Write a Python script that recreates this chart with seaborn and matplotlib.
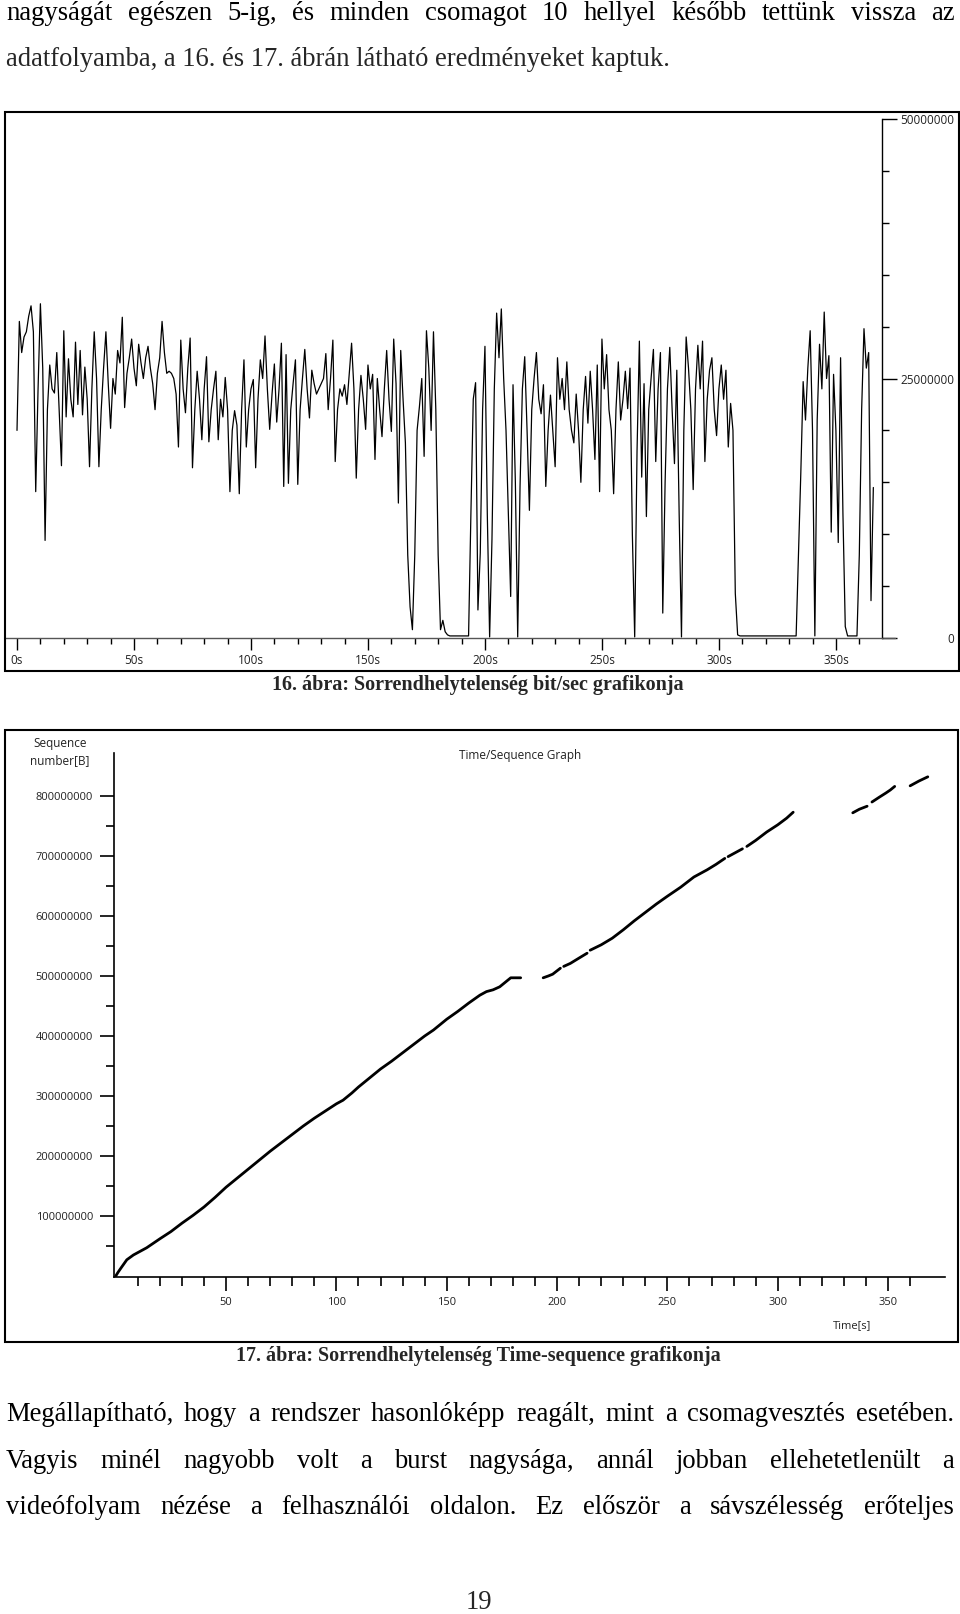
import numpy as np
import pandas as pd
import matplotlib
matplotlib.use("Agg")
import matplotlib.pyplot as plt
import seaborn as sns
from matplotlib.patches import Rectangle
from matplotlib.lines import Line2D
from matplotlib.ticker import MultipleLocator, FixedLocator, FuncFormatter

# ---------------- data ----------------
# Figure 16: bit/sec, one value per second (millions of bit/s)
bitrate_mbps = [
    20.0, 30.5, 27.5, 29.0, 29.5, 31.0, 32.0, 29.5, 14.1, 24.0,
    32.2, 26.0, 9.4, 22.0, 26.3, 24.0, 23.6, 27.5, 22.0, 16.6,
    29.6, 21.3, 26.9, 23.0, 21.3, 28.5, 22.5, 27.7, 21.5, 26.1,
    23.0, 16.5, 24.0, 29.5, 25.0, 16.5, 22.0, 26.0, 29.5, 24.5,
    20.2, 25.0, 23.5, 27.7, 26.5, 30.9, 22.2, 25.5, 27.0, 28.8,
    26.0, 24.3, 28.3, 26.5, 25.0, 27.0, 28.1, 26.0, 24.5, 22.0,
    25.5, 27.0, 30.5, 27.5, 25.5, 25.7, 25.5, 25.0, 23.5, 18.4,
    28.7, 24.0, 21.7, 26.0, 28.9, 16.4, 22.0, 25.7, 23.0, 19.1,
    24.0, 27.1, 18.9, 22.0, 24.0, 25.7, 19.1, 23.0, 21.3, 25.1,
    22.0, 14.1, 20.0, 21.9, 20.5, 13.9, 22.0, 26.8, 18.4, 22.0,
    24.0, 24.9, 16.4, 23.0, 26.8, 25.0, 29.1, 24.0, 20.1, 23.5,
    26.4, 20.8, 24.0, 28.4, 14.6, 27.3, 14.9, 22.0, 24.5, 26.8,
    14.8, 22.0, 25.0, 27.8, 24.0, 21.2, 25.8, 24.5, 23.5, 24.0,
    24.5, 25.0, 27.4, 22.0, 25.0, 28.7, 17.0, 22.0, 24.0, 23.3,
    24.4, 22.5, 25.5, 28.4, 24.0, 15.4, 22.0, 25.3, 23.0, 20.1,
    26.3, 24.0, 25.4, 17.2, 25.0, 22.0, 19.4, 24.0, 27.7, 23.0,
    19.9, 28.8, 24.5, 13.0, 27.7, 23.0, 18.8, 8.0, 3.0, 0.8,
    8.0, 20.0, 22.3, 25.0, 17.5, 29.6, 26.0, 20.0, 29.5, 22.0,
    8.0, 0.8, 1.7, 0.6, 0.3, 0.2, 0.2, 0.2, 0.2, 0.2,
    0.2, 0.2, 0.2, 0.2, 12.0, 23.0, 24.6, 2.7, 8.2, 22.0,
    28.1, 12.0, 0.1, 9.5, 24.0, 31.3, 27.0, 31.7, 25.0, 20.0,
    12.0, 4.0, 24.4, 15.0, 0.1, 14.6, 24.0, 27.1, 20.0, 12.3,
    22.0, 25.0, 27.5, 23.0, 21.6, 24.4, 14.6, 20.0, 23.4, 20.0,
    16.5, 27.0, 23.0, 25.0, 22.0, 26.6, 22.0, 20.0, 18.8, 23.5,
    20.0, 15.0, 22.0, 25.2, 20.7, 25.7, 22.0, 17.2, 26.3, 14.1,
    28.8, 24.0, 27.3, 22.0, 20.0, 13.9, 22.0, 26.6, 21.0, 23.0,
    25.7, 22.1, 26.0, 10.0, 0.1, 18.0, 28.6, 15.5, 24.5, 11.7,
    22.0, 25.0, 27.8, 17.0, 24.0, 27.5, 2.4, 15.0, 24.0, 28.0,
    22.0, 16.8, 25.8, 12.0, 0.1, 20.0, 29.0, 26.0, 22.0, 14.3,
    24.0, 28.2, 24.0, 28.6, 17.0, 23.0, 25.8, 27.0, 22.0, 19.5,
    24.0, 26.3, 23.0, 25.8, 18.4, 22.6, 20.0, 4.3, 0.3, 0.2,
    0.2, 0.2, 0.2, 0.2, 0.2, 0.2, 0.2, 0.2, 0.2, 0.2,
    0.2, 0.2, 0.2, 0.2, 0.2, 0.2, 0.2, 0.2, 0.2, 0.2,
    0.2, 0.2, 0.2, 0.2, 8.0, 15.9, 24.7, 21.0, 26.0, 29.6,
    20.0, 0.2, 21.0, 28.3, 24.0, 31.4, 25.0, 27.2, 10.2, 25.4,
    20.0, 9.2, 27.0, 12.0, 1.1, 0.2, 0.2, 0.2, 0.2, 0.2,
    8.0, 22.0, 29.8, 26.0, 27.5, 3.6, 14.5,
]
bitrate_seconds = list(range(len(bitrate_mbps)))
bitrate_ticks = [0, 25000000, 50000000]
bitrate_xticks = [0, 50, 100, 150, 200, 250, 300, 350]
bitrate_xtick_labels = ["0s", "50s", "100s", "150s", "200s", "250s", "300s", "350s"]
bitrate_xminor = [10, 20, 30, 40, 60, 70, 80, 90, 110, 120, 130, 140, 160, 170, 180, 190,
                  210, 220, 230, 240, 260, 270, 280, 290, 310, 320, 330, 340, 360]

# Figure 17: time / sequence graph, segments separated by gaps (sequence in millions of bytes)
seq_segment = ([1] * 44 + [2] * 4 + [3] * 4 + [4] * 13 + [5] * 2 + [6] * 6 +
               [7] * 3 + [8] * 5 + [9] * 3)
seq_time = [0, 1, 2.5, 5, 8, 11, 14, 20, 25, 30, 35, 40, 45, 50, 55, 60, 65, 70, 75, 80,
            85, 90, 95, 100, 103, 107, 110, 115, 120, 125, 130, 135, 140, 144, 150, 155,
            160, 165, 168, 171, 174, 177, 179, 183.5,
            193.7, 196, 198, 201.5,
            203, 206, 210, 213.6,
            215, 220, 225, 230, 235, 240, 245, 250, 256, 262, 268, 272, 276,
            277.5, 284,
            286, 290, 295, 300, 304, 307,
            334, 337, 340.5,
            342.7, 346, 349, 351, 353,
            360, 364, 368]
seq_value_mb = [0, 6, 14, 27, 35, 41, 47, 62, 74, 88, 101, 115, 131, 148, 163, 178, 193, 208,
                222, 236, 250, 263, 275, 287, 293, 305, 315, 330, 345, 358, 372, 386, 400,
                410, 428, 441, 455, 468, 474, 477, 482, 491, 497, 497,
                497, 500, 503, 513,
                516, 521, 530, 538,
                543, 552, 563, 577, 592, 606, 620, 633, 648, 665, 677, 686, 696,
                699, 712,
                716, 726, 740, 752, 763, 773,
                772, 778, 783,
                790, 798, 805, 810, 816,
                817, 825, 832]
seq_yticks = [100000000, 200000000, 300000000, 400000000, 500000000, 600000000, 700000000, 800000000]
seq_yminor = [50000000, 150000000, 250000000, 350000000, 450000000, 550000000, 650000000, 750000000]
seq_xticks = [50, 100, 150, 200, 250, 300, 350]
seq_xminor = [10, 20, 30, 40, 60, 70, 80, 90, 110, 120, 130, 140, 160, 170, 180, 190,
              210, 220, 230, 240, 260, 270, 280, 290, 310, 320, 330, 340, 360]

# page text
text_top = ["nagyságát egészen 5-ig, és minden csomagot 10 hellyel később tettünk vissza az",
            "adatfolyamba, a 16. és 17. ábrán látható eredményeket kaptuk."]
caption16 = "16. ábra: Sorrendhelytelenség bit/sec grafikonja"
caption17 = "17. ábra: Sorrendhelytelenség Time-sequence grafikonja"
text_bottom = ["Megállapítható, hogy a rendszer hasonlóképp reagált, mint a csomagvesztés esetében.",
               "Vagyis minél nagyobb volt a burst nagysága, annál jobban ellehetetlenült a",
               "videófolyam nézése a felhasználói oldalon. Ez először a sávszélesség erőteljes"]
page_number = "19"

# ---------------- figure ----------------
sns.set_style("white")
plt.rcParams["font.family"] = ["Open Sans", "DejaVu Sans"]
W, H = 960, 1614
fig = plt.figure(figsize=(W / 100, H / 100), dpi=100)
renderer = fig.canvas.get_renderer()
SERIF = ["Liberation Serif", "DejaVu Serif"]


def fpos(x, y):
    return x / W, 1 - y / H


def text_width(s, fs, weight="normal"):
    t = fig.text(0, 0, s, fontsize=fs, family=SERIF, weight=weight)
    w = t.get_window_extent(renderer).width
    t.remove()
    return w


def justified(line, base_y, fs, x0=6, x1=955):
    words = line.split(" ")
    widths = [text_width(w, fs) for w in words]
    gap = (x1 - x0 - sum(widths)) / (len(words) - 1)
    x = x0
    for w, wd in zip(words, widths):
        fig.text(*fpos(x, base_y), w, fontsize=fs, family=SERIF, va="baseline", ha="left", color="black")
        x += wd + gap


fs_body = 14 * 668 / text_width(text_top[1], 14)
fs_cap = 14 * 412 / text_width(caption16, 14, "bold")

justified(text_top[0], 20, fs_body)
fig.text(*fpos(6, 66), text_top[1], fontsize=fs_body, family=SERIF, va="baseline", ha="left")
for line, y in zip(text_bottom, [1421, 1468, 1514]):
    justified(line, y, fs_body, 6, 954)
fig.text(*fpos(479, 1609), page_number, fontsize=fs_body, family=SERIF, va="baseline", ha="center")
fig.text(*fpos(478, 690), caption16, fontsize=fs_cap, family=SERIF, weight="bold", va="baseline", ha="center")
fig.text(*fpos(478, 1361), caption17, fontsize=fs_cap, family=SERIF, weight="bold", va="baseline", ha="center")

# frames
for (x0, y0, x1, y1) in [(5, 112, 959, 671), (5, 730, 958, 1342)]:
    fig.add_artist(Rectangle(fpos(x0, y1), (x1 - x0) / W, (y1 - y0) / H, transform=fig.transFigure,
                             fill=False, lw=1.5, ec="black"))

PX = 0.72  # points per pixel

# ---------- top chart ----------
ax1 = fig.add_axes([5 / W, 1 - 638 / H, (882 - 5) / W, (638 - 119) / H])
df1 = pd.DataFrame({"t": bitrate_seconds, "bps": np.array(bitrate_mbps) * 1e6})
sns.lineplot(data=df1, x="t", y="bps", color="black", lw=0.9, ax=ax1)
ax1.set_xlim(-5.13, 369.7)
ax1.set_ylim(0, 50e6)
ax1.set_xlabel("")
ax1.set_ylabel("")
ax1.set_facecolor("white")
for s in ["top", "left"]:
    ax1.spines[s].set_visible(False)
ax1.spines["right"].set_color("black")
ax1.spines["right"].set_linewidth(1)
ax1.spines["bottom"].set_color("#555555")
ax1.spines["bottom"].set_linewidth(1)
ax1.add_line(Line2D([1, 1 + 13 / 877], [0, 0], transform=ax1.transAxes, color="#555555", lw=1, clip_on=False))
ax1.yaxis.tick_right()
ax1.set_yticks(bitrate_ticks)
ax1.yaxis.set_minor_locator(MultipleLocator(5e6))
ax1.yaxis.set_major_formatter(FuncFormatter(lambda v, p: f"{v:.0f}"))
ax1.set_xticks(bitrate_xticks)
ax1.set_xticklabels(bitrate_xtick_labels)
ax1.xaxis.set_minor_locator(FixedLocator(bitrate_xminor))
ax1.tick_params(axis="y", which="both", left=False, labelleft=False, right=True, labelright=True,
                direction="out", color="black", width=1)
ax1.tick_params(axis="y", which="major", length=15 * PX, pad=(72 - 15) * PX, labelsize=8.5, labelcolor="#222222")
ax1.tick_params(axis="y", which="minor", length=7 * PX)
plt.setp(ax1.get_yticklabels(), ha="right")
ax1.tick_params(axis="x", which="both", bottom=True, direction="out", color="black", width=1)
ax1.tick_params(axis="x", which="major", length=12 * PX, pad=3, labelsize=8.5, labelcolor="#222222")
ax1.tick_params(axis="x", which="minor", length=6 * PX)

# ---------- bottom chart ----------
ax2 = fig.add_axes([114 / W, 1 - 1277 / H, (945 - 114) / W, (1277 - 753) / H])
df2 = pd.DataFrame({"seg": seq_segment, "t": seq_time, "seq": np.array(seq_value_mb) * 1e6})
sns.lineplot(data=df2, x="t", y="seq", units="seg", estimator=None, color="black", lw=2.0, ax=ax2)
ax2.set_xlim(-0.8, 375.8)
ax2.set_ylim(-1.7e6, 871.7e6)
ax2.set_xlabel("")
ax2.set_ylabel("")
for s in ["top", "right"]:
    ax2.spines[s].set_visible(False)
for s in ["left", "bottom"]:
    ax2.spines[s].set_color("black")
    ax2.spines[s].set_linewidth(1.2)
ax2.set_xticks(seq_xticks)
ax2.xaxis.set_minor_locator(FixedLocator(seq_xminor))
ax2.set_yticks(seq_yticks)
ax2.yaxis.set_minor_locator(FixedLocator(seq_yminor))
ax2.yaxis.set_major_formatter(FuncFormatter(lambda v, p: f"{v:.0f}"))
ax2.tick_params(axis="both", which="both", direction="out", color="black", width=1.2, left=True, bottom=True)
ax2.tick_params(axis="x", which="major", length=14 * PX, pad=4, labelsize=8, labelcolor="#222222")
ax2.tick_params(axis="x", which="minor", length=9 * PX)
ax2.tick_params(axis="y", which="major", length=14 * PX, pad=5, labelsize=8, labelcolor="#222222")
ax2.tick_params(axis="y", which="minor", length=8 * PX)

fig.text(*fpos(60, 744), "Sequence", fontsize=8.5, ha="center", va="center", color="#222222")
fig.text(*fpos(60, 761), "number[B]", fontsize=8.5, ha="center", va="center", color="#222222")
fig.text(*fpos(520, 755), "Time/Sequence Graph", fontsize=8.5, ha="center", va="center", color="#222222")
fig.text(*fpos(852, 1326), "Time[s]", fontsize=8, ha="center", va="center", color="#222222")

fig.savefig("out.png", dpi=100, facecolor="white")
